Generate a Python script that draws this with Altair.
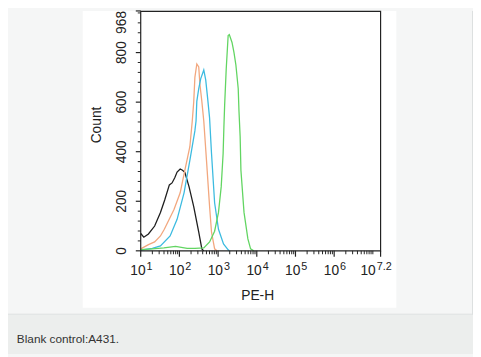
import altair as alt
import pandas as pd

# ---- data (x in log10 units of PE-H, y = count) ----
black_x = [1.00, 1.08, 1.20, 1.36, 1.51, 1.62, 1.74, 1.81, 1.88, 1.94, 2.02, 2.08, 2.14, 2.25, 2.37, 2.50, 2.58, 2.63]
black_y = [70, 55, 68, 100, 155, 205, 266, 274, 295, 318, 330, 325, 317, 258, 178, 75, 8, 0]

orange_x = [1.00, 1.20, 1.36, 1.51, 1.61, 1.86, 2.02, 2.14, 2.27, 2.33, 2.37, 2.40, 2.45, 2.50, 2.53, 2.58, 2.63, 2.70, 2.78, 2.83, 2.91, 2.97]
orange_y = [8, 25, 36, 60, 87, 167, 234, 325, 420, 520, 600, 700, 754, 742, 671, 603, 524, 365, 179, 75, 8, 0]

cyan_x = [1.00, 1.30, 1.51, 1.76, 1.94, 2.12, 2.27, 2.40, 2.43, 2.45, 2.50, 2.55, 2.63, 2.68, 2.73, 2.78, 2.83, 2.91, 3.01, 3.14, 3.26, 3.29]
cyan_y = [3, 10, 20, 60, 127, 234, 365, 484, 524, 603, 655, 694, 730, 690, 615, 536, 393, 194, 87, 28, 4, 0]

green_x = [1.00, 1.30, 1.60, 1.90, 2.20, 2.40, 2.63, 2.78, 2.91, 3.01, 3.08, 3.13, 3.15, 3.17, 3.21, 3.26, 3.29, 3.36, 3.41, 3.46, 3.52, 3.54, 3.57, 3.59, 3.67, 3.77, 3.84, 3.92]
green_y = [5, 8, 12, 18, 10, 10, 12, 36, 79, 155, 258, 393, 500, 591, 734, 869, 873, 841, 801, 750, 655, 563, 460, 325, 155, 48, 8, 0]

series_names = ["Blank control", "Isotype", "Antibody low", "Antibody"]
series_colors = ["#1e1e1e", "#f2a77e", "#3cbbe0", "#62d562"]

x_major = [1, 2, 3, 4, 5, 6, 7.2]
x_exp_single = ["1", "2", "3", "4", "5", "6"]
x_exp_single_pos = [1, 2, 3, 4, 5, 6]
x_exp_last = ["7.2"]
x_exp_last_pos = [7.2]
x_minor = [d + m for d in range(1, 7) for m in [0.301, 0.477, 0.602, 0.699, 0.778, 0.845, 0.903, 0.954]] + [7.0]
y_major = [0, 200, 400, 600, 800, 968]
y_major_labels = ["0", "200", "400", "600", "800", "968"]
y_minor = [v for v in range(40, 968, 40) if v % 200 != 0]

x_title = ["PE-H"]
y_title = ["Count"]
caption = ["Blank control:A431."]

FONT = "Liberation Sans, Arial, sans-serif"
TXT = "#222222"

rows = []
for name, xs, ys in zip(series_names, [black_x, orange_x, cyan_x, green_x], [black_y, orange_y, cyan_y, green_y]):
    for a, b in zip(xs, ys):
        rows.append({"series": name, "logx": a, "count": b})
df = pd.DataFrame(rows)

ylab_df = pd.DataFrame({"v": y_major, "t": y_major_labels})
ylab_mid = ylab_df.iloc[:-1]
ylab_top = ylab_df.iloc[-1:]

xscale = alt.Scale(domain=[1, 7.2], nice=False, zero=False)
yscale = alt.Scale(domain=[0, 968], nice=False, zero=False)
one = pd.DataFrame({"k": [0]})

white_bg = alt.Chart(one).mark_rect(color="white").encode(
    x=alt.value(-59), x2=alt.value(260), y=alt.value(0), y2=alt.value(302))
cap_bg = alt.Chart(one).mark_rect(color="#eceeed").encode(
    x=alt.value(-135), x2=alt.value(338), y=alt.value(309), y2=alt.value(349))
cap_line = alt.Chart(one).mark_rule(color="#dcdfdf", strokeWidth=1).encode(
    x=alt.value(-135), x2=alt.value(338), y=alt.value(308.5))
right_line = alt.Chart(one).mark_rule(color="#dcdfdf", strokeWidth=1).encode(
    x=alt.value(337.5), y=alt.value(0), y2=alt.value(309))

xminor = alt.Chart(pd.DataFrame({"v": x_minor})).mark_rule(color=TXT, strokeWidth=1).encode(
    x=alt.X("v:Q", scale=xscale, axis=None), y=alt.value(244), y2=alt.value(247.5))
xmajor = alt.Chart(pd.DataFrame({"v": x_major})).mark_rule(color=TXT, strokeWidth=1.2).encode(
    x=alt.X("v:Q", scale=xscale, axis=None), y=alt.value(244), y2=alt.value(250))
yminor = alt.Chart(pd.DataFrame({"v": y_minor})).mark_rule(color=TXT, strokeWidth=1).encode(
    y=alt.Y("v:Q", scale=yscale, axis=None), x=alt.value(-3), x2=alt.value(0))
ymajor = alt.Chart(ylab_df).mark_rule(color=TXT, strokeWidth=1.2).encode(
    y=alt.Y("v:Q", scale=yscale, axis=None), x=alt.value(-5), x2=alt.value(0))
ylabels = alt.Chart(ylab_mid).mark_text(
    font=FONT, fontSize=14, color=TXT, align="center", baseline="alphabetic", angle=270).encode(
    y=alt.Y("v:Q", scale=yscale, axis=None), x=alt.value(-15), text="t:N")
ylabel_top = alt.Chart(ylab_top).mark_text(
    font=FONT, fontSize=14, color=TXT, align="right", baseline="alphabetic", angle=270, dy=0).encode(
    y=alt.Y("v:Q", scale=yscale, axis=None), x=alt.value(-15), text="t:N")

lines = alt.Chart(df).mark_line(strokeWidth=1.3, interpolate="linear").encode(
    x=alt.X("logx:Q", scale=xscale, axis=None),
    y=alt.Y("count:Q", scale=yscale, axis=None),
    color=alt.Color("series:N", scale=alt.Scale(domain=series_names, range=series_colors), legend=None),
    detail="series:N",
)

frame = alt.Chart(one).mark_rect(fill=None, stroke=TXT, strokeWidth=1.2).encode(
    x=alt.value(0), x2=alt.value(244), y=alt.value(0.5), y2=alt.value(244))

base1 = alt.Chart(pd.DataFrame({"v": x_exp_single_pos, "e": x_exp_single})).mark_text(
    text="10", align="right", dx=5, font=FONT, fontSize=14, color=TXT, baseline="alphabetic").encode(
    x=alt.X("v:Q", scale=xscale, axis=None), y=alt.value(269))
exp1 = alt.Chart(pd.DataFrame({"v": x_exp_single_pos, "e": x_exp_single})).mark_text(
    align="left", dx=6, font=FONT, fontSize=11, color=TXT, baseline="alphabetic").encode(
    x=alt.X("v:Q", scale=xscale, axis=None), y=alt.value(263), text="e:N")
base2 = alt.Chart(pd.DataFrame({"v": x_exp_last_pos, "e": x_exp_last})).mark_text(
    text="10", align="right", dx=-5, font=FONT, fontSize=14, color=TXT, baseline="alphabetic").encode(
    x=alt.X("v:Q", scale=xscale, axis=None), y=alt.value(269))
exp2 = alt.Chart(pd.DataFrame({"v": x_exp_last_pos, "e": x_exp_last})).mark_text(
    align="left", dx=-4, font=FONT, fontSize=11, color=TXT, baseline="alphabetic").encode(
    x=alt.X("v:Q", scale=xscale, axis=None), y=alt.value(263), text="e:N")

xt = alt.Chart(pd.DataFrame({"t": x_title})).mark_text(
    font=FONT, fontSize=14, color=TXT, align="center", baseline="middle").encode(
    x=alt.value(119), y=alt.value(290), text="t:N")
yt = alt.Chart(pd.DataFrame({"t": y_title})).mark_text(
    font=FONT, fontSize=14, color=TXT, align="center", baseline="middle", angle=270).encode(
    x=alt.value(-44), y=alt.value(116), text="t:N")
cap = alt.Chart(pd.DataFrame({"t": caption})).mark_text(
    font=FONT, fontSize=12, color="#333333", align="left", baseline="alphabetic").encode(
    x=alt.value(-126), y=alt.value(338), text="t:N")

chart = alt.layer(
    white_bg, cap_bg, cap_line, right_line, lines, frame, xminor, xmajor, yminor, ymajor,
    ylabels, ylabel_top, base1, exp1, base2, exp2, xt, yt, cap
).properties(
    width=244, height=244,
    autosize=alt.AutoSizeParams(type="none"),
    padding={"left": 135, "top": 0, "right": 94, "bottom": 105},
    background="#f5f6f6",
).configure_view(stroke=None)

chart.save("out.html", embed_options={"renderer": "svg", "actions": False})
